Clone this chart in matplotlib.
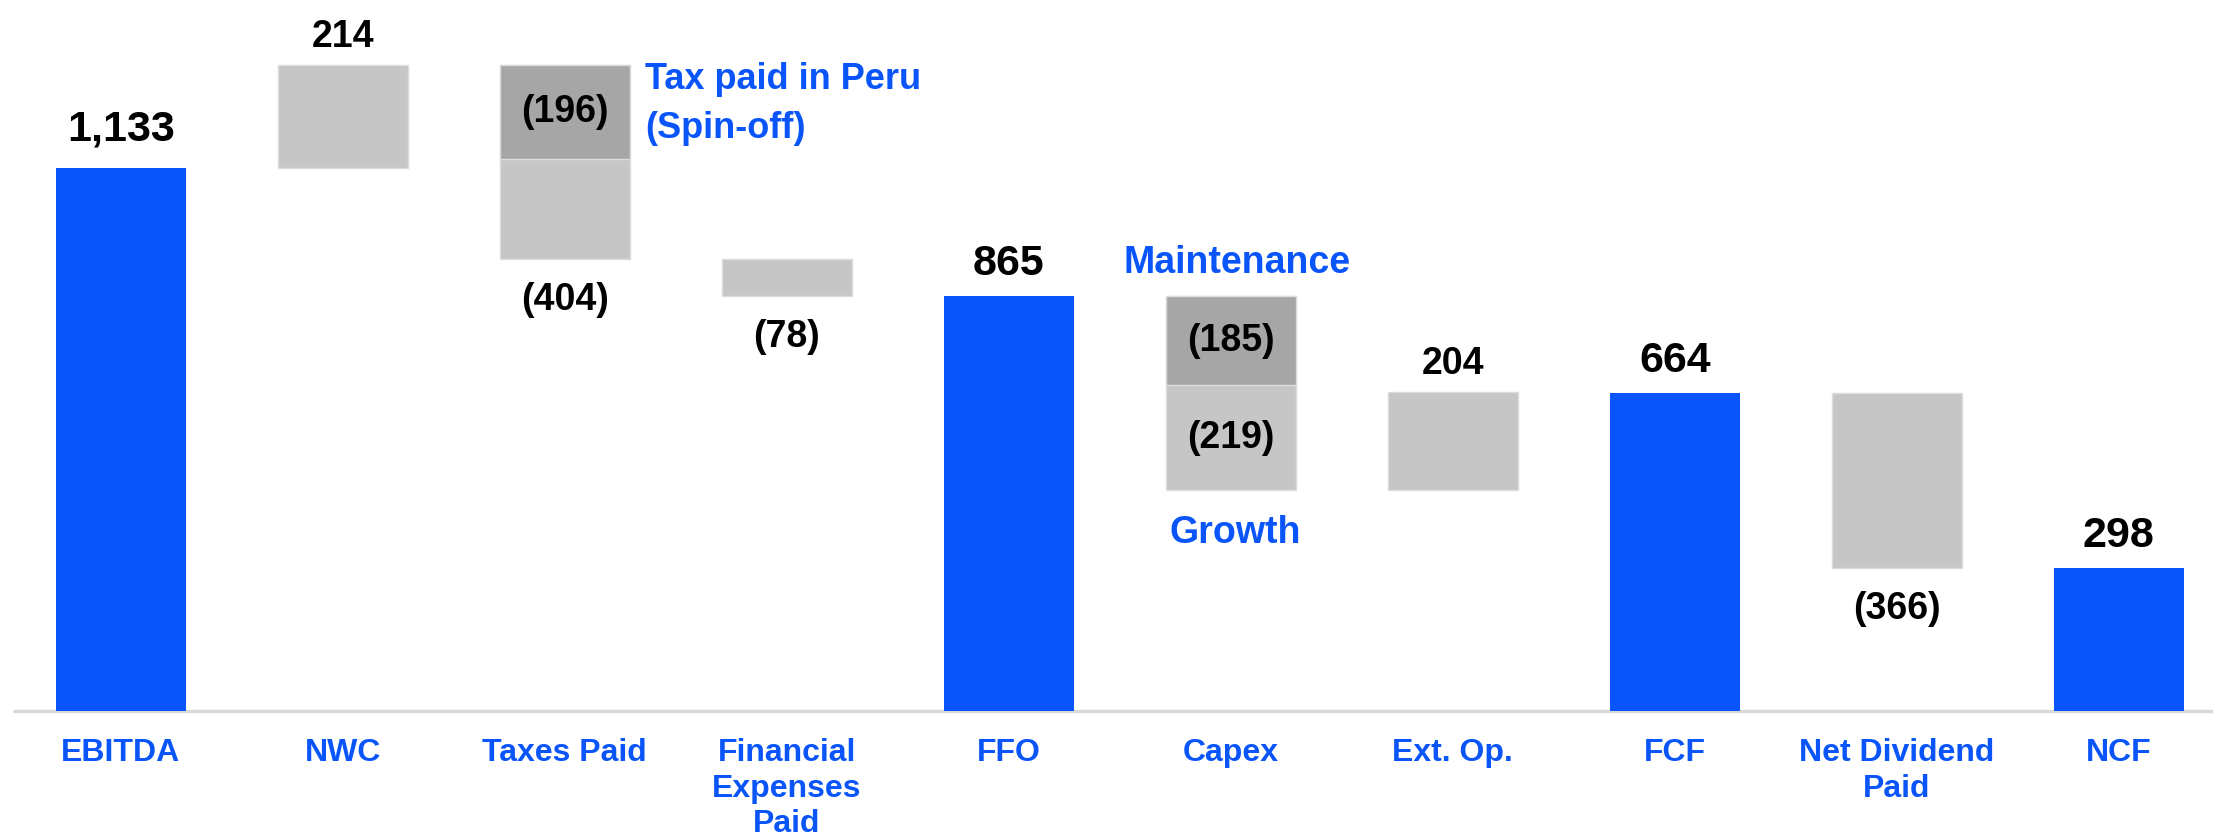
"""
Waterfall chart: EBITDA to NCF bridge.
"""

import matplotlib.pyplot as plt

categories = ["EBITDA", "NWC", "Taxes Paid", "Financial\nExpenses\nPaid", "FFO",
              "Capex", "Ext. Op.", "FCF", "Net Dividend\nPaid", "NCF"]
values = [1133, 214, -404, -78, 865, -404, 204, 664, -366, 298]
is_total = [True, False, False, False, True, False, False, True, False, True]

# sub-splits shown in darker grey on top of the delta bars
tax_peru = 196
capex_maintenance = 185
capex_growth = 219

BLUE = "#0955FA"
LIGHT = "#C6C6C6"
DARK = "#A6A6A6"
FONT = ["Liberation Sans", "DejaVu Sans"]

fig = plt.figure(figsize=(22.13, 8.38), dpi=100)
ax = fig.add_axes([0, 0, 1, 1])
ax.set_xlim(-0.5437, 9.4247)
ax.set_ylim(-265, 1483.5)
ax.axis("off")

width = 0.585
gap = 44

running = 0
for i, (cat, val, tot) in enumerate(zip(categories, values, is_total)):
    if tot:
        ax.bar(i, val, width=width, bottom=0, color=BLUE, linewidth=0)
        extra = 14 if i == 0 else 0
        ax.text(i, val + gap + extra, f"{val:,}", ha="center", va="baseline",
                fontsize=31, fontweight="bold", family=FONT)
        running = val
        continue

    if val >= 0:
        bottom, top = running, running + val
    else:
        bottom, top = running + val, running
    ax.bar(i, top - bottom, width=width, bottom=bottom, color=LIGHT,
           edgecolor="#DCDCDC", linewidth=1)

    if cat == "Taxes Paid":
        ax.bar(i, tax_peru, width=width, bottom=top - tax_peru, color=DARK,
               edgecolor="#DCDCDC", linewidth=1)
        ax.text(i, top - tax_peru / 2, f"({tax_peru})", ha="center", va="center",
                fontsize=27, fontweight="bold", family=FONT)
        ax.text(i + 0.362, 1297, "Tax paid in Peru", ha="left", va="baseline",
                fontsize=26, fontweight="bold", color=BLUE, family=FONT)
        ax.text(i + 0.362, 1195, "(Spin-off)", ha="left", va="baseline",
                fontsize=26, fontweight="bold", color=BLUE, family=FONT)
    if cat == "Capex":
        ax.bar(i, capex_maintenance, width=width, bottom=top - capex_maintenance,
               color=DARK, edgecolor="#DCDCDC", linewidth=1)
        ax.text(i, top - capex_maintenance / 2, f"({capex_maintenance})",
                ha="center", va="center", fontsize=27, fontweight="bold", family=FONT)
        ax.text(i, bottom + capex_growth / 2, f"({capex_growth})",
                ha="center", va="center", fontsize=27, fontweight="bold", family=FONT)
        ax.text(i + 0.03, 914, "Maintenance", ha="center", va="baseline",
                fontsize=27, fontweight="bold", color=BLUE, family=FONT)
        ax.text(i + 0.02, 350, "Growth", ha="center", va="baseline",
                fontsize=27, fontweight="bold", color=BLUE, family=FONT)
    elif val >= 0:
        ax.text(i, top + gap - 6, f"{val:,}", ha="center", va="baseline",
                fontsize=27, fontweight="bold", family=FONT)
    else:
        ax.text(i, bottom - gap - 4, f"({-val:,})", ha="center", va="top",
                fontsize=27, fontweight="bold", family=FONT)

    running += val

# baseline
ax.hlines(0, -0.485, 9.43, color="#D9D9D9", linewidth=2.5, zorder=0)

for i, cat in enumerate(categories):
    ax.text(i, -56, cat, ha="center", va="top", fontsize=23, fontweight="bold",
            color=BLUE, family=FONT, linespacing=1.25)

fig.savefig("out.png", dpi=100)
